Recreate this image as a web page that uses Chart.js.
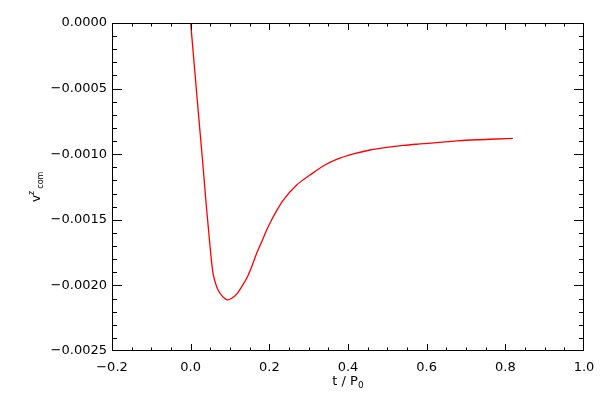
<!DOCTYPE html>
<html>
<head>
<meta charset="utf-8">
<script src="https://cdn.jsdelivr.net/npm/chart.js@4/dist/chart.umd.min.js"></script>
<style>
  html, body { margin: 0; padding: 0; background: #fff; }
  #wrap { width: 600px; height: 400px; }
</style>
</head>
<body>
<div id="wrap"><canvas id="vzChart"></canvas></div>
<script>
// t / P0 samples and v^z_com
const tValues = [0.0, 0.01, 0.02, 0.03, 0.04, 0.0492, 0.0535, 0.0576, 0.0661, 0.0746,
  0.083, 0.094, 0.1043, 0.117, 0.1297, 0.1424, 0.1552, 0.1679, 0.1806, 0.1933,
  0.206, 0.2187, 0.2355, 0.2695, 0.3034, 0.337, 0.371, 0.4135, 0.456,
  0.4984, 0.5406, 0.583, 0.6255, 0.676, 0.727, 0.778, 0.819];
const vValues = [0, -0.00035, -0.0007, -0.00104, -0.0014, -0.0017, -0.00183, -0.00192, -0.00201, -0.00206,
  -0.00209, -0.002111, -0.002098, -0.002066, -0.00201, -0.001946, -0.001857, -0.001755, -0.001667, -0.001578,
  -0.0015, -0.00143, -0.00135, -0.001235, -0.001159, -0.00109, -0.00104, -0.000998, -0.000968,
  -0.000948, -0.000933, -0.000922, -0.000912, -0.000899, -0.00089, -0.000884, -0.000879];

const xMin = -0.2, xMax = 1.0, xMajor = 0.2, xMinor = 0.05;
const yMin = -0.0025, yMax = 0.0, yMajor = 0.0005, yMinor = 0.0001;

const FONT = 'DejaVu Sans';

// IDL-style frame with inward ticks on all four sides, plus axis titles
const framePlugin = {
  id: 'frame',
  afterDraw(chart) {
    const { ctx, chartArea: a, scales: { x, y } } = chart;
    ctx.save();
    ctx.strokeStyle = '#000';
    ctx.lineWidth = 1;
    ctx.strokeRect(a.left + 0.5, a.top + 0.5, a.right - a.left - 1, a.bottom - a.top - 1);
    ctx.beginPath();
    const nx = Math.round((xMax - xMin) / xMinor);
    for (let i = 1; i < nx; i++) {
      const px = Math.round(x.getPixelForValue(xMin + i * xMinor)) + 0.5;
      const len = i % 4 === 0 ? 7 : 3.5;
      ctx.moveTo(px, a.bottom); ctx.lineTo(px, a.bottom - len);
      ctx.moveTo(px, a.top); ctx.lineTo(px, a.top + len);
    }
    const ny = Math.round((yMax - yMin) / yMinor);
    for (let i = 1; i < ny; i++) {
      const py = Math.round(y.getPixelForValue(yMin + i * yMinor)) + 0.5;
      const len = i % 5 === 0 ? 10 : 5;
      ctx.moveTo(a.left, py); ctx.lineTo(a.left + len, py);
      ctx.moveTo(a.right, py); ctx.lineTo(a.right - len, py);
    }
    ctx.stroke();

    // x title: t / P0
    ctx.fillStyle = '#000';
    ctx.textBaseline = 'alphabetic';
    ctx.textAlign = 'left';
    const main = 't / P';
    ctx.font = '9px ' + FONT;
    const subW = ctx.measureText('0').width;
    ctx.font = '13px ' + FONT;
    const mainW = ctx.measureText(main).width;
    const x0 = (a.left + a.right) / 2 - (mainW + subW) / 2;
    ctx.fillText(main, x0, 385);
    ctx.font = '9px ' + FONT;
    ctx.fillText('0', x0 + mainW, 388);

    // y title: v^z_com, rotated
    ctx.translate(40, 202);
    ctx.rotate(-Math.PI / 2);
    ctx.font = '12px ' + FONT;
    ctx.fillText('v', 0, 0);
    const vW = ctx.measureText('v').width;
    ctx.font = '8px ' + FONT;
    ctx.fillText('z', vW, -6);
    const zW = ctx.measureText('z').width;
    ctx.fillText('com', vW + zW + 2, 3);
    ctx.restore();
  }
};

const fmtX = v => (v < -1e-9 ? '\u2212' : '') + Math.abs(v).toFixed(1);
const fmtY = v => (v < -1e-9 ? '\u2212' : '') + Math.abs(v).toFixed(4);

new Chart(document.getElementById('vzChart'), {
  type: 'scatter',
  data: {
    datasets: [{
      data: tValues.map((t, i) => ({ x: t, y: vValues[i] })),
      showLine: true,
      borderColor: '#ff0000',
      borderWidth: 1.3,
      pointRadius: 0,
      cubicInterpolationMode: 'monotone',
      fill: false
    }]
  },
  plugins: [framePlugin],
  options: {
    responsive: true,
    maintainAspectRatio: false,
    animation: false,
    events: [],
    layout: { padding: { top: 23, right: 16, bottom: 0, left: 0 } },
    plugins: { legend: { display: false }, tooltip: { enabled: false } },
    scales: {
      x: {
        type: 'linear',
        min: xMin, max: xMax,
        grid: { display: false, drawTicks: false },
        border: { display: false },
        ticks: {
          stepSize: xMajor,
          color: '#000',
          font: { family: FONT, size: 13 },
          padding: 9,
          maxRotation: 0,
          callback: v => fmtX(v)
        },
        afterFit: s => { s.height = 49; s.paddingLeft = 0; s.paddingRight = 0; }
      },
      y: {
        type: 'linear',
        min: yMin, max: yMax,
        grid: { display: false, drawTicks: false },
        border: { display: false },
        ticks: {
          stepSize: yMajor,
          color: '#000',
          font: { family: FONT, size: 13 },
          padding: 5,
          callback: v => fmtY(v)
        },
        afterFit: s => { s.width = 112; s.paddingTop = 0; s.paddingBottom = 0; }
      }
    }
  }
});
</script>
</body>
</html>
